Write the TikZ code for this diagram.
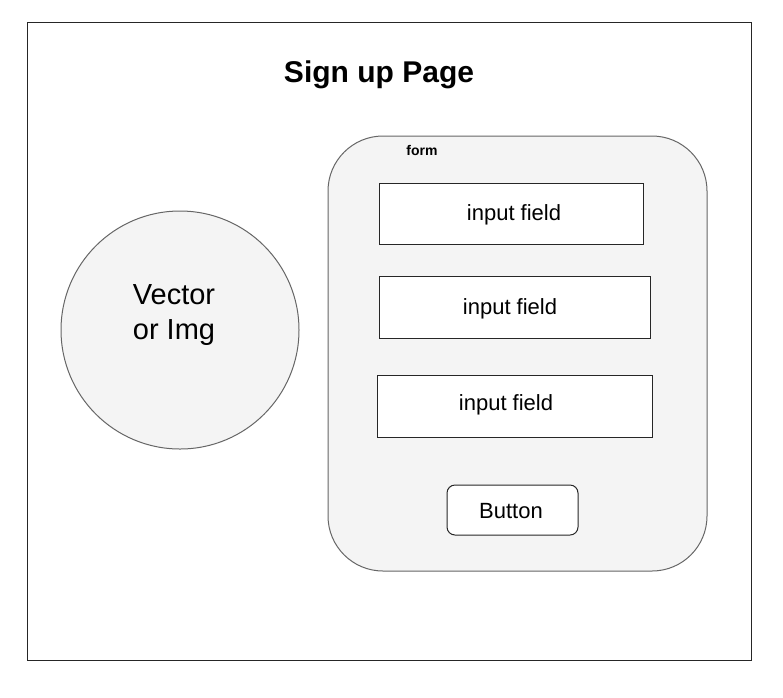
\documentclass[tikz,border=0pt]{standalone}
\usepackage{fontspec}
\setmainfont{Liberation Sans}
\begin{document}
\definecolor{panel}{HTML}{F4F4F4}
\definecolor{edge}{HTML}{666666}
\begin{tikzpicture}[x=1pt,y=-1pt,line width=1pt,
  shell/.style={fill=panel,draw=edge},
  fieldbox/.style={draw=black!85,fill=white},
  lbl/.style={inner sep=0pt,font=\fontsize{22}{26}\selectfont}]
\useasboundingbox (0,0) rectangle (783,697);
% page frame
\draw[draw=black!85] (27,22) rectangle (751,660);
\node[inner sep=0pt,font=\fontsize{30}{36}\selectfont\bfseries] (title) at (379,75) {Sign up Page};
% image placeholder
\draw[shell] (180,330) circle (119);
\node[inner sep=0pt,align=center,font=\fontsize{29}{35}\selectfont] (img) at (174,315) {Vector\\or Img};
% form container
\draw[shell,rounded corners=55] (328,136) rectangle (707,571);
\node[inner sep=0pt,font=\fontsize{14}{17}\selectfont\bfseries] (form) at (422,150) {form};
% inputs
\draw[fieldbox] (379,183) rectangle (643,244);
\node[lbl] (f1) at (514,215) {input field};
\draw[fieldbox] (379,276) rectangle (650,338);
\node[lbl] (f2) at (510,309) {input field};
\draw[fieldbox] (377,375) rectangle (652,437);
\node[lbl] (f3) at (506,405) {input field};
% submit button
\draw[fieldbox,rounded corners=8] (447,485) rectangle (578,535);
\node[lbl] (btn) at (511,511) {Button};
\end{tikzpicture}
\end{document}
